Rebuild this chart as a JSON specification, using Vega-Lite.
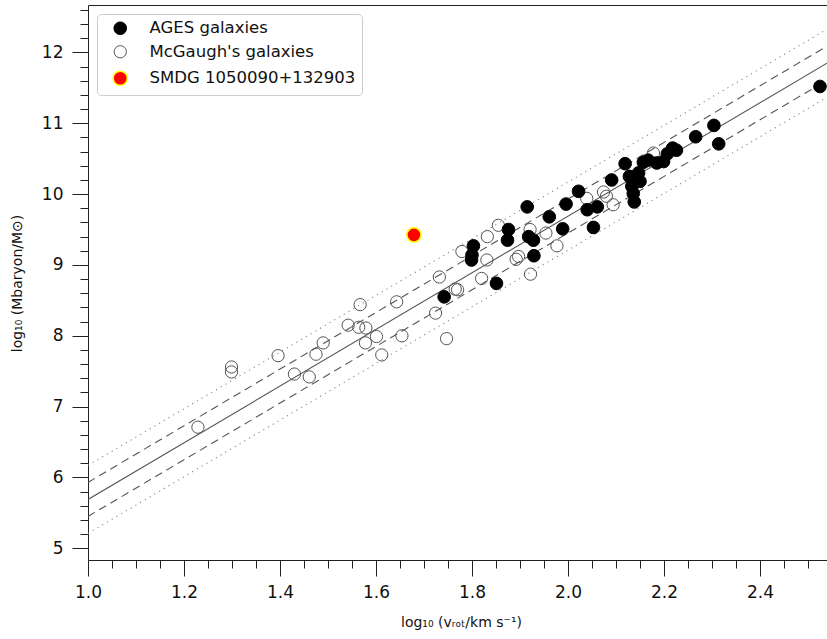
{
  "$schema": "https://vega.github.io/schema/vega-lite/v6.json",
  "width": 739,
  "height": 555,
  "autosize": {"type": "none"},
  "padding": {"left": 88, "top": 5, "right": 0, "bottom": 79},
  "background": "white",
  "datasets": {
    "fit": [{"x": 1.0, "y": 5.69, "line": "fit"}, {"x": 2.5396, "y": 11.848, "line": "fit"}],
    "dash": [
      {"x": 1.0, "y": 5.93, "line": "up1"}, {"x": 2.5396, "y": 12.088, "line": "up1"},
      {"x": 1.0, "y": 5.45, "line": "lo1"}, {"x": 2.5396, "y": 11.608, "line": "lo1"}
    ],
    "dot": [
      {"x": 1.0, "y": 6.17, "line": "up2"}, {"x": 2.5396, "y": 12.328, "line": "up2"},
      {"x": 1.0, "y": 5.21, "line": "lo2"}, {"x": 2.5396, "y": 11.368, "line": "lo2"}
    ],
    "pts": [
      {"x": 1.229, "y": 6.71, "sample": "McGaugh's galaxies"},
      {"x": 1.299, "y": 7.56, "sample": "McGaugh's galaxies"},
      {"x": 1.299, "y": 7.49, "sample": "McGaugh's galaxies"},
      {"x": 1.396, "y": 7.72, "sample": "McGaugh's galaxies"},
      {"x": 1.43, "y": 7.46, "sample": "McGaugh's galaxies"},
      {"x": 1.461, "y": 7.42, "sample": "McGaugh's galaxies"},
      {"x": 1.475, "y": 7.74, "sample": "McGaugh's galaxies"},
      {"x": 1.49, "y": 7.9, "sample": "McGaugh's galaxies"},
      {"x": 1.542, "y": 8.15, "sample": "McGaugh's galaxies"},
      {"x": 1.567, "y": 8.44, "sample": "McGaugh's galaxies"},
      {"x": 1.564, "y": 8.12, "sample": "McGaugh's galaxies"},
      {"x": 1.579, "y": 8.11, "sample": "McGaugh's galaxies"},
      {"x": 1.578, "y": 7.9, "sample": "McGaugh's galaxies"},
      {"x": 1.601, "y": 7.99, "sample": "McGaugh's galaxies"},
      {"x": 1.612, "y": 7.73, "sample": "McGaugh's galaxies"},
      {"x": 1.643, "y": 8.48, "sample": "McGaugh's galaxies"},
      {"x": 1.654, "y": 8.0, "sample": "McGaugh's galaxies"},
      {"x": 1.724, "y": 8.32, "sample": "McGaugh's galaxies"},
      {"x": 1.732, "y": 8.83, "sample": "McGaugh's galaxies"},
      {"x": 1.747, "y": 7.96, "sample": "McGaugh's galaxies"},
      {"x": 1.765, "y": 8.66, "sample": "McGaugh's galaxies"},
      {"x": 1.77, "y": 8.65, "sample": "McGaugh's galaxies"},
      {"x": 1.779, "y": 9.19, "sample": "McGaugh's galaxies"},
      {"x": 1.82, "y": 8.81, "sample": "McGaugh's galaxies"},
      {"x": 1.831, "y": 9.07, "sample": "McGaugh's galaxies"},
      {"x": 1.832, "y": 9.4, "sample": "McGaugh's galaxies"},
      {"x": 1.855, "y": 9.56, "sample": "McGaugh's galaxies"},
      {"x": 1.892, "y": 9.08, "sample": "McGaugh's galaxies"},
      {"x": 1.897, "y": 9.12, "sample": "McGaugh's galaxies"},
      {"x": 1.921, "y": 9.5, "sample": "McGaugh's galaxies"},
      {"x": 1.922, "y": 8.87, "sample": "McGaugh's galaxies"},
      {"x": 1.954, "y": 9.45, "sample": "McGaugh's galaxies"},
      {"x": 1.977, "y": 9.27, "sample": "McGaugh's galaxies"},
      {"x": 2.039, "y": 9.94, "sample": "McGaugh's galaxies"},
      {"x": 2.074, "y": 10.03, "sample": "McGaugh's galaxies"},
      {"x": 2.08, "y": 9.97, "sample": "McGaugh's galaxies"},
      {"x": 2.094, "y": 9.85, "sample": "McGaugh's galaxies"},
      {"x": 2.178, "y": 10.58, "sample": "McGaugh's galaxies"},
      {"x": 1.742, "y": 8.55, "sample": "AGES galaxies"},
      {"x": 1.803, "y": 9.27, "sample": "AGES galaxies"},
      {"x": 1.799, "y": 9.07, "sample": "AGES galaxies"},
      {"x": 1.8, "y": 9.14, "sample": "AGES galaxies"},
      {"x": 1.851, "y": 8.74, "sample": "AGES galaxies"},
      {"x": 1.876, "y": 9.5, "sample": "AGES galaxies"},
      {"x": 1.874, "y": 9.35, "sample": "AGES galaxies"},
      {"x": 1.915, "y": 9.82, "sample": "AGES galaxies"},
      {"x": 1.918, "y": 9.4, "sample": "AGES galaxies"},
      {"x": 1.928, "y": 9.35, "sample": "AGES galaxies"},
      {"x": 1.929, "y": 9.13, "sample": "AGES galaxies"},
      {"x": 1.961, "y": 9.68, "sample": "AGES galaxies"},
      {"x": 1.989, "y": 9.51, "sample": "AGES galaxies"},
      {"x": 1.996, "y": 9.86, "sample": "AGES galaxies"},
      {"x": 2.022, "y": 10.04, "sample": "AGES galaxies"},
      {"x": 2.04, "y": 9.78, "sample": "AGES galaxies"},
      {"x": 2.061, "y": 9.82, "sample": "AGES galaxies"},
      {"x": 2.053, "y": 9.53, "sample": "AGES galaxies"},
      {"x": 2.091, "y": 10.2, "sample": "AGES galaxies"},
      {"x": 2.119, "y": 10.43, "sample": "AGES galaxies"},
      {"x": 2.128, "y": 10.25, "sample": "AGES galaxies"},
      {"x": 2.133, "y": 10.11, "sample": "AGES galaxies"},
      {"x": 2.136, "y": 10.01, "sample": "AGES galaxies"},
      {"x": 2.138, "y": 9.89, "sample": "AGES galaxies"},
      {"x": 2.15, "y": 10.18, "sample": "AGES galaxies"},
      {"x": 2.147, "y": 10.3, "sample": "AGES galaxies"},
      {"x": 2.157, "y": 10.45, "sample": "AGES galaxies"},
      {"x": 2.167, "y": 10.48, "sample": "AGES galaxies"},
      {"x": 2.185, "y": 10.44, "sample": "AGES galaxies"},
      {"x": 2.199, "y": 10.46, "sample": "AGES galaxies"},
      {"x": 2.207, "y": 10.57, "sample": "AGES galaxies"},
      {"x": 2.218, "y": 10.65, "sample": "AGES galaxies"},
      {"x": 2.226, "y": 10.62, "sample": "AGES galaxies"},
      {"x": 2.266, "y": 10.81, "sample": "AGES galaxies"},
      {"x": 2.304, "y": 10.97, "sample": "AGES galaxies"},
      {"x": 2.314, "y": 10.71, "sample": "AGES galaxies"},
      {"x": 2.525, "y": 11.52, "sample": "AGES galaxies"},
      {"x": 1.679, "y": 9.425, "sample": "SMDG 1050090+132903"}
    ]
  },
  "encoding": {
    "x": {
      "field": "x", "type": "quantitative",
      "scale": {"domain": [1.0, 2.5396], "nice": false, "zero": false},
      "axis": {
        "orient": "bottom",
        "values": [1.0, 1.05, 1.1, 1.15, 1.2, 1.25, 1.3, 1.35, 1.4, 1.45, 1.5, 1.55, 1.6, 1.65, 1.7, 1.75, 1.8, 1.85, 1.9, 1.95, 2.0, 2.05, 2.1, 2.15, 2.2, 2.25, 2.3, 2.35, 2.4, 2.45, 2.5],
        "tickSize": {"condition": {"test": "abs(datum.value*5 - round(datum.value*5)) < 0.0001 && datum.value < 2.45", "value": 16}, "value": 8},
        "labelExpr": "abs(datum.value*5 - round(datum.value*5)) < 0.0001 && datum.value < 2.45 ? format(datum.value, '.1f') : ''",
        "labelFontSize": 17,
        "labelPadding": 8,
        "labelFlush": false,
        "labelOverlap": false,
        "title": "log₁₀ (vᵣₒₜ/km s⁻¹)",
        "titleFontSize": 14,
        "titleX": 373,
        "titleY": 62,
        "titleBaseline": "middle",
        "titleAnchor": null
      }
    },
    "y": {
      "field": "y", "type": "quantitative",
      "scale": {"domain": [4.835, 12.67], "nice": false, "zero": false},
      "axis": {
        "orient": "left",
        "values": [5.0, 5.2, 5.4, 5.6, 5.8, 6.0, 6.2, 6.4, 6.6, 6.8, 7.0, 7.2, 7.4, 7.6, 7.8, 8.0, 8.2, 8.4, 8.6, 8.8, 9.0, 9.2, 9.4, 9.6, 9.8, 10.0, 10.2, 10.4, 10.6, 10.8, 11.0, 11.2, 11.4, 11.6, 11.8, 12.0, 12.2, 12.4, 12.6],
        "tickSize": {"condition": {"test": "abs(datum.value - round(datum.value)) < 0.0001", "value": 16}, "value": 8},
        "labelExpr": "abs(datum.value - round(datum.value)) < 0.0001 ? format(datum.value, 'd') : ''",
        "labelFontSize": 17,
        "labelPadding": 9,
        "labelFlush": false,
        "labelOverlap": false,
        "title": "log₁₀ (Mbaryon/M⊙)",
        "titleFontSize": 14,
        "titleAngle": 270,
        "titleX": -71,
        "titleY": 278,
        "titleAlign": "center",
        "titleBaseline": "middle",
        "titleAnchor": null
      }
    }
  },
  "layer": [
    {
      "data": {"name": "fit"},
      "mark": {"type": "line", "color": "#555555", "strokeWidth": 1.1, "clip": true}
    },
    {
      "data": {"name": "dash"},
      "mark": {"type": "line", "color": "#555555", "strokeWidth": 1.1, "strokeDash": [8, 5], "clip": true},
      "encoding": {
        "x": {"field": "x", "type": "quantitative", "axis": null},
        "detail": {"field": "line"}
      }
    },
    {
      "data": {"name": "dot"},
      "mark": {"type": "line", "color": "#888888", "strokeWidth": 1.1, "strokeDash": [1.2, 4.3], "clip": true},
      "encoding": {
        "x": {"field": "x", "type": "quantitative", "axis": null},
        "detail": {"field": "line"}
      }
    },
    {
      "data": {"name": "pts"},
      "mark": {"type": "point", "shape": "circle", "opacity": 1, "filled": false},
      "encoding": {
        "x": {"field": "x", "type": "quantitative", "axis": {"orient": "top", "ticks": false, "labels": false, "domain": true, "title": null}},
        "fill": {
          "field": "sample", "type": "nominal",
          "scale": {"domain": ["AGES galaxies", "McGaugh's galaxies", "SMDG 1050090+132903"], "range": ["#000000", "transparent", "#ff0000"]},
          "legend": {"title": null}
        },
        "stroke": {
          "field": "sample", "type": "nominal",
          "scale": {"domain": ["AGES galaxies", "McGaugh's galaxies", "SMDG 1050090+132903"], "range": ["#000000", "#555555", "#ffff00"]},
          "legend": {"title": null}
        },
        "strokeWidth": {
          "field": "sample", "type": "nominal",
          "scale": {"type": "ordinal", "domain": ["AGES galaxies", "McGaugh's galaxies", "SMDG 1050090+132903"], "range": [1, 1, 1.6]},
          "legend": {"title": null}
        },
        "size": {
          "field": "sample", "type": "nominal",
          "scale": {"type": "ordinal", "domain": ["AGES galaxies", "McGaugh's galaxies", "SMDG 1050090+132903"], "range": [160, 150, 200]},
          "legend": {"title": null}
        }
      }
    }
  ],
  "resolve": {"axis": {"x": "independent"}},
  "config": {
    "view": {"stroke": null},
    "font": "DejaVu Sans",
    "axis": {"grid": false, "domainColor": "#222222", "tickColor": "#222222", "labelColor": "#111111", "titleColor": "#111111", "labelFont": "DejaVu Sans", "titleFont": "DejaVu Sans", "titleFontWeight": "normal"},
    "legend": {
      "orient": "none",
      "legendX": 9,
      "legendY": 9,
      "padding": 6,
      "symbolOffset": 9,
      "labelFontSize": 16.5,
      "labelFont": "DejaVu Sans",
      "labelColor": "#111111",
      "labelOffset": 21,
      "rowPadding": 6.5,
      "fillColor": "white",
      "strokeColor": "#cccccc",
      "cornerRadius": 4,
      "labelLimit": 400
    }
  }
}
